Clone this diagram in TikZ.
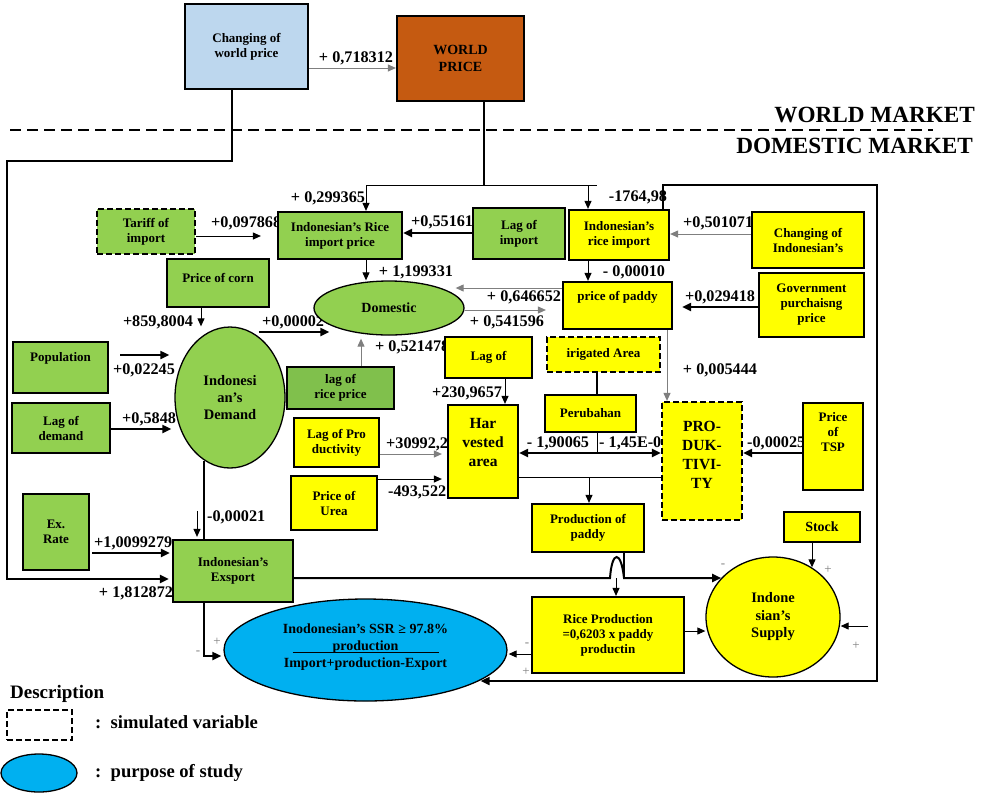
\documentclass[tikz,border=0pt]{standalone}
\usepackage{fontspec}
\setmainfont{Liberation Serif}
\usetikzlibrary{arrows.meta,calc,shapes.geometric}
\pgfdeclarelayer{bg}
\pgfsetlayers{bg,main}
\definecolor{grn}{HTML}{92D050}
\definecolor{grntwo}{HTML}{80C04C}
\definecolor{yel}{HTML}{FFFF00}
\definecolor{lblue}{HTML}{BDD7EE}
\definecolor{orng}{HTML}{C55A11}
\definecolor{cyn}{HTML}{00B0F0}
\definecolor{gry}{HTML}{7F7F7F}
\newcommand\bxfont{\bfseries\fontsize{13}{15}\selectfont}
\newcommand\lbfont{\bfseries\fontsize{16.2}{18}\selectfont}
\newcommand\bgfont{\bfseries\fontsize{15.5}{19}\selectfont}
\newcommand\ttlfont{\bfseries\fontsize{23.2}{25}\selectfont}
\newcommand\pmfont{\fontsize{13}{13}\selectfont}
\begin{document}
\begin{tikzpicture}[x=1pt,y=-1pt,
  box/.style={draw=black, line width=2.2pt, inner sep=0pt, align=center, font=\bxfont, text=black},
  dbox/.style={box, dash pattern=on 6pt off 3pt},
  ell/.style={ellipse, draw=black, line width=1.3pt, inner sep=0pt, align=center, font=\bxfont, text=black},
  lab/.style={font=\lbfont, inner sep=0pt, text=black},
  pmk/.style={font=\pmfont, text=gry, inner sep=0pt},
  lnT/.style={line width=2pt, draw=black},
  lnK/.style={line width=1pt, draw=black},
  arrT/.style={lnT, -{Triangle[length=9pt,width=8pt]}},
  arrK/.style={lnK, -{Triangle[length=8pt,width=7pt]}},
  arrG/.style={line width=1pt, draw=gry, -{Triangle[length=8pt,width=7pt]}},
  dblT/.style={lnT, {Triangle[length=9pt,width=8pt]}-{Triangle[length=9pt,width=8pt]}}
]
\useasboundingbox (0,0) rectangle (984,793);

% ---------- labels partly hidden by boxes ----------
\begin{pgfonlayer}{bg}
\node[lab,anchor=west] (l4) at (211,223) {+0,097868};
\node[lab,anchor=west] (l5) at (411,222) {+0,55161};
\node[lab,anchor=west] (l6) at (683,223) {+0,501071};
\node[lab,anchor=west] (l13) at (262,322) {+0,00002};
\node[lab,anchor=west] (l14) at (375,347) {+ 0,521478};
\node[lab,anchor=west] (l18) at (122,419) {+0,5848};
\node[lab,anchor=west] (l19) at (386,444) {+30992,2};
\node[lab,anchor=west] (l21) at (599,443) {- 1,45E-06};
\node[lab,anchor=west] (l22) at (747,443) {-0,00025};
\node[lab,anchor=west] (l23) at (388,492) {-493,522};
\node[lab,anchor=west] (l25) at (94,543) {+1,0099279};
\end{pgfonlayer}

% ---------- world market ----------
\node[box,fill=lblue,minimum width=123pt,minimum height=85pt] (cwp) at (246.5,46.5) {Changing of\\world price};
\node[box,fill=orng,minimum width=127pt,minimum height=85pt,font=\bfseries\fontsize{14}{17}\selectfont] (wp) at (460.5,58.5) {WORLD\\PRICE};
\node[font=\ttlfont,anchor=east,inner sep=0pt] (wm) at (975,115) {WORLD MARKET};
\node[font=\ttlfont,anchor=east,inner sep=0pt] (dm) at (973,146) {DOMESTIC MARKET};
\draw[line width=2.5pt, dash pattern=on 11pt off 6pt] (10,130) -- (933,130);

% ---------- domestic boxes ----------
\node[dbox,fill=grn,minimum width=98pt,minimum height=45pt] (tariff) at (146,231.5) {Tariff of\\import};
\node[box,fill=grn,minimum width=124pt,minimum height=47pt] (iip) at (340,235.5) {Indonesian's Rice\\import price};
\node[box,fill=grn,minimum width=92pt,minimum height=51pt] (lagimp) at (519,233.5) {Lag of\\import};
\node[box,fill=yel,minimum width=100pt,minimum height=50pt] (rimp) at (619,235) {Indonesian's\\rice import};
\node[box,fill=yel,minimum width=112pt,minimum height=56pt] (chind) at (808,240) {Changing of\\Indonesian's};
\node[box,fill=yel,minimum width=105pt,minimum height=64pt] (gov) at (811.5,305) {Government\\purchaisng\\price};
\node[box,fill=yel,minimum width=109pt,minimum height=47pt] (pop) at (617.5,305.5) {price of paddy\\[4pt]~};
\node[box,fill=grn,minimum width=102pt,minimum height=48pt] (corn) at (218,283) {Price of corn\\[-4pt]~};
\node[ell,fill=grn,minimum width=150pt,minimum height=54pt,font=\bfseries\fontsize{14}{16}\selectfont] (dom) at (389,308) {Domestic};
\node[ell,fill=grn,minimum width=110pt,minimum height=141pt,font=\bfseries\fontsize{14.5}{17}\selectfont] (dem) at (230,397.5) {Indonesi\\an's\\Demand};
\node[box,fill=grn,minimum width=95pt,minimum height=51pt] (popl) at (60.5,367.5) {Population\\[6pt]~};
\node[box,fill=grn,minimum width=98pt,minimum height=50pt] (lagdem) at (61,428) {Lag of\\demand};
\node[box,fill=grn,minimum width=66pt,minimum height=76pt] (exr) at (56,532) {Ex.\\Rate};
\node[box,fill=grn,minimum width=120pt,minimum height=62pt] (exp) at (233,571) {Indonesian's\\Exsport};
\node[box,fill=grntwo,minimum width=107pt,minimum height=42pt] (lrp) at (340.5,388) {lag of\\rice price};
\node[box,fill=yel,minimum width=87pt,minimum height=41pt] (lagof) at (488.5,357.5) {Lag of};
\node[dbox,fill=yel,minimum width=113pt,minimum height=35pt] (irig) at (603.5,354.5) {irigated Area};
\node[box,fill=yel,minimum width=91pt,minimum height=37pt] (perub) at (590.5,413.5) {Perubahan};
\node[box,fill=yel,minimum width=85pt,minimum height=49pt] (lagprod) at (336.5,442.5) {Lag of Pro\\ductivity};
\node[box,fill=yel,minimum width=86pt,minimum height=54pt] (urea) at (334,503) {Price of\\Urea};
\node[box,fill=yel,minimum width=70pt,minimum height=93pt,font=\bgfont] (harv) at (483,451.5) {Har\\vested\\area\\~};
\node[dbox,fill=yel,minimum width=80pt,minimum height=118pt,font=\bgfont] (prod) at (702,461) {PRO-\\DUK-\\TIVI-\\TY\\[-7pt]~};
\node[box,fill=yel,minimum width=60pt,minimum height=87pt] (tsp) at (833,446.5) {Price\\of\\TSP\\~\\~};
\node[box,fill=yel,minimum width=112pt,minimum height=48pt] (ppad) at (588,528) {Production of\\paddy};
\node[box,fill=yel,minimum width=76pt,minimum height=30pt,font=\bfseries\fontsize{14}{16}\selectfont] (stock) at (822,527) {Stock};
\node[box,fill=yel,minimum width=152pt,minimum height=76pt] (ricep) at (608,635) {Rice Production\\=0,6203 x paddy\\productin};
\node[ell,fill=yel,minimum width=134pt,minimum height=120pt,font=\bfseries\fontsize{14.5}{17.5}\selectfont] (sup) at (773,617) {Indone\\sian's\\Supply};
\node[ell,fill=cyn,minimum width=283pt,minimum height=102pt,font=\bfseries\fontsize{14}{17}\selectfont] (ssr) at (365.5,650) {Inodonesian's SSR ≥ 97.8\%\\production\\Import+production-Export\\[-8pt]~};
\draw[lnK] ($(ssr.center)+(-73,2)$) -- ++(146,0);

% ---------- connectors ----------
\draw[arrG] (cwp.east|-0,68) -- (wp.west|-0,68);
\draw[arrT] (cwp.south-|232,0) |- (7,161) |- ($(exp.west|-0,579)+(-3,0)$);
\draw[lnT] (wp.south-|484,0) -- (484,185);
\draw[lnK] (366,185) -- (597,185);
\draw[arrK] (366,185) -- (iip.north-|366,0);
\draw[arrK] (588,185) -- (rimp.north-|588,0);
\draw[arrT] (rimp.north-|663,0) -- (663,185) -- (877,185) -- (877,681) -- ($(ssr.east|-0,681)+(-27,0)$);

\draw[arrK] (tariff.east|-0,236) -- ($(iip.west|-0,236)+(-16,0)$);
\draw[arrT] (lagimp.west|-0,233) -- (iip.east|-0,233);
\draw[arrG] (chind.west|-0,234) -- (rimp.east|-0,234);
\draw[arrK] (rimp.south-|588,0) -- (pop.north-|588,0);
\draw[arrT] (gov.west|-0,307) -- ($(pop.east|-0,307)+(9,0)$);
\draw[arrG] (pop.west|-0,288) -- ($(dom.east|-0,288)+(-9,0)$);
\draw[arrG] (dom.east|-0,310) -- ($(pop.west|-0,310)+(-16,0)$);
\draw[arrK] (iip.south-|366,0) -- (dom.north-|366,0);
\draw[arrK] (corn.south-|201,0) -- (dem.north-|201,0);
\draw[arrT] ($(dem.east|-0,332)+(-27,0)$) -- ($(dom.west|-0,332)+(16,0)$);
\draw[arrT] ($(popl.east|-0,355)+(11,0)$) -- ($(dem.west|-0,355)+(-5,0)$);
\draw[arrT] (lagdem.east|-0,429) -- ($(dem.west|-0,429)+(-3,0)$);
\draw[arrT] ($(exr.east|-0,553)+(2,0)$) -- ($(exp.west|-0,553)+(-2,0)$);
\draw[lnT] ($(dem.south-|204,0)+(0,-8)$) -- (exp.north-|204,0);
\draw[arrK] ($(exp.north-|197,0)+(0,-28)$) -- ($(exp.north-|197,0)+(0,-2)$);
\draw[arrG] (lrp.north-|361,0) -- ($(dom.south-|361,0)+(0,3)$);

\draw[arrK] (lagof.south-|505,0) -- (harv.north-|505,0);
\draw[arrG] (lagprod.east|-0,454) -- ($(harv.west|-0,454)+(-5,0)$);
\draw[arrK] (urea.east|-0,479) -- ($(harv.west|-0,479)+(-5,0)$);
\draw[lnT] (irig.south-|597,0) -- (perub.north-|597,0);
\draw[lnK] (perub.south-|597,0) -- (597,453);
\draw[dblT] (harv.east|-0,453) -- (prod.west|-0,453);
\draw[lnK] (harv.east|-0,477) -- (prod.west|-0,477);
\draw[arrK] (589,477) -- (ppad.north-|589,0);
\draw[arrG] (pop.south-|667,0) -- (prod.north-|667,0);
\draw[arrT] (tsp.west|-0,453) -- (prod.east|-0,453);

\draw[arrT] (exp.east|-0,578) -- (610,578) .. controls (612,550) and (621,550) .. (624,578) -- (sup.143|-0,578);
\draw[lnT] (ppad.south-|624,0) -- (624,578);
\draw[arrK] (616,578) -- (ricep.north-|616,0);
\draw[arrK] (ricep.east|-0,631) -- (sup.west|-0,631);
\draw[arrK] (stock.south-|812,0) -- (sup.52-|812,0);
\coordinate (supin) at (868,626);
\draw[arrK] (supin) -- (sup.east|-0,626);
\draw[arrK] (ricep.west|-0,654) -- ($(ssr.east|-0,654)+(1,0)$);
\draw[arrT] (exp.south-|204,0) |- ($(ssr.west|-0,656)+(-2,0)$);

% ---------- coefficient labels ----------
\node[lab] (l1) at (356,58) {+ 0,718312};
\node[lab] (l2) at (328,198) {+ 0,299365};
\node[lab] (l3) at (638,197) {-1764,98};
\node[lab] (l7) at (634,272) {- 0,00010};
\node[lab] (l8) at (416,272) {+ 1,199331};
\node[lab] (l9) at (524,297) {+ 0,646652};
\node[lab] (l10) at (720,297) {+0,029418};
\node[lab] (l11) at (507,322) {+ 0,541596};
\node[lab] (l12) at (158,322) {+859,8004};
\node[lab] (l15) at (720,370) {+ 0,005444};
\node[lab] (l16) at (144,370) {+0,02245};
\node[lab] (l17) at (467,393) {+230,9657};
\node[lab] (l20) at (558,443) {- 1,90065};
\node[lab,anchor=west] (l24) at (207,517) {-0,00021};
\node[lab] (l26) at (136,593) {+ 1,812872};

% plus / minus marks
\node[pmk] (p1) at (217,642) {+};
\node[pmk] (p2) at (198,653) {-};
\node[pmk] (p3) at (527,645) {-};
\node[pmk] (p4) at (526,672) {+};
\node[pmk] (p5) at (723,566) {-};
\node[pmk] (p6) at (828,570) {+};
\node[pmk] (p7) at (856,646) {+};

% ---------- legend ----------
\node[font=\bfseries\fontsize{19}{21}\selectfont,anchor=west,inner sep=0pt] (desc) at (10,694) {Description};
\node[draw=black,line width=2.5pt,dash pattern=on 6pt off 3pt,minimum width=65pt,minimum height=30pt,inner sep=0pt] (lg1) at (39.5,725) {};
\node[font=\bfseries\fontsize{18.6}{20}\selectfont,anchor=west,inner sep=0pt] (lt1) at (95,722) {:\ \ simulated variable};
\node[ellipse,draw=black,line width=1.3pt,fill=cyn,minimum width=76pt,minimum height=38pt,inner sep=0pt] (lg2) at (39,773) {};
\node[font=\bfseries\fontsize{18.6}{20}\selectfont,anchor=west,inner sep=0pt] (lt2) at (95,773) {:\ \ purpose of study};
\end{tikzpicture}
\end{document}
